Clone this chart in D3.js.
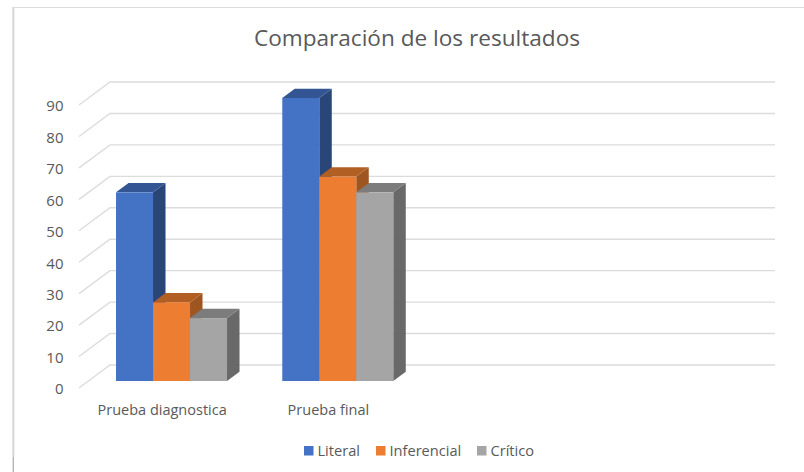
<!DOCTYPE html>
<html>
<head>
<meta charset="utf-8">
<script src="https://cdnjs.cloudflare.com/ajax/libs/d3/7.8.5/d3.min.js"></script>
<style>
  html, body { margin: 0; padding: 0; background: #fff; }
  svg { display: block; }
  text { font-family: "Open Sans", sans-serif; fill: #595959; }
  .axis path, .axis line { display: none; }
</style>
</head>
<body>
<div id="chart"></div>
<script>
'use strict';

var categories = ['Prueba diagnostica', 'Prueba final', '', ' '];
var literal = [60, 90];
var inferencial = [25, 65];
var critico = [20, 60];
var yTicks = [0, 10, 20, 30, 40, 50, 60, 70, 80, 90];
var seriesNames = ['Literal', 'Inferencial', 'Crítico'];
var seriesValues = [literal, inferencial, critico];

var colors = ['#4472c4', '#ed7d31', '#a5a5a5'];
var topColors = ['#335593', '#b25f24', '#7c7c7c'];
var sideColors = ['#2a4679', '#9f5520', '#696969'];

var width = 804, height = 472;
var depth = { x: 31, y: -23 };      // floor depth, front edge to back wall
var barDepth = { x: 12.5, y: -9.3 };
var barInset = { x: 9.4, y: -7 };   // bars stand a bit behind the front edge

var svg = d3.select('#chart').append('svg')
  .attr('width', width)
  .attr('height', height);

// chart frame, only left and top edges are in the crop
svg.append('line').attr('x1', 13.3).attr('x2', 13.3).attr('y1', 7).attr('y2', 457)
  .attr('stroke', '#d9d9d9').attr('stroke-width', 2.2);
svg.append('line').attr('x1', 13.3).attr('x2', 13.3).attr('y1', 457).attr('y2', 472)
  .attr('stroke', '#b4b4b4').attr('stroke-width', 1.4);
svg.append('line').attr('x1', 12).attr('x2', 804).attr('y1', 7.5).attr('y2', 7.5)
  .attr('stroke', '#dcdcdc').attr('stroke-width', 1.2);

var xScale = d3.scaleBand().domain(categories).range([79, 744]);
var yScale = d3.scaleLinear().domain([0, 90]).range([388, 105]);

// walls
svg.append('g').selectAll('path')
  .data(yTicks)
  .enter()
  .append('path')
  .attr('d', function(d) {
    var y = yScale(d);
    return 'M' + xScale.range()[0] + ',' + y +
      'L' + (xScale.range()[0] + depth.x) + ',' + (y + depth.y) +
      'H' + (xScale.range()[1] + depth.x);
  })
  .attr('fill', 'none')
  .attr('stroke', '#dcdcdc')
  .attr('stroke-width', 1.4);

// axes
var yAxis = d3.axisLeft(yScale).tickValues(yTicks).tickSize(0).tickPadding(0);
var yGroup = svg.append('g')
  .attr('class', 'axis')
  .attr('transform', 'translate(63.5,1)')
  .call(yAxis);
yGroup.selectAll('text')
  .style('font-family', '"Open Sans", sans-serif')
  .style('font-size', '15px')
  .style('fill', '#595959');

var xAxis = d3.axisBottom(xScale).tickSize(0).tickPadding(0);
var xGroup = svg.append('g')
  .attr('class', 'axis')
  .attr('transform', 'translate(0,404.5)')
  .call(xAxis);
xGroup.selectAll('text')
  .style('font-family', '"Open Sans", sans-serif')
  .style('font-size', '14.5px')
  .style('fill', '#595959');

// 3d bars
var barWidth = 37;
function barX(catIndex, serIndex) {
  var center = xScale(categories[catIndex]) + xScale.bandwidth() / 2 + barInset.x;
  return center - barWidth * 1.5 + serIndex * barWidth;
}

categories.slice(0, 2).forEach(function(cat, c) {
  seriesValues.forEach(function(values, s) {
    var x0 = barX(c, s), x1 = x0 + barWidth;
    var yBase = yScale(0) + barInset.y;
    var yTop = yScale(values[c]) + barInset.y;
    var g = svg.append('g');

    g.append('path')
      .attr('d', 'M' + x1 + ',' + yTop +
        'l' + barDepth.x + ',' + barDepth.y +
        'V' + (yBase + barDepth.y) +
        'L' + x1 + ',' + yBase + 'Z')
      .attr('fill', sideColors[s]);
    g.append('path')
      .attr('d', 'M' + x0 + ',' + yTop +
        'l' + barDepth.x + ',' + barDepth.y +
        'H' + (x1 + barDepth.x) +
        'L' + x1 + ',' + yTop + 'Z')
      .attr('fill', topColors[s]);
    g.append('rect')
      .attr('x', x0)
      .attr('y', yTop)
      .attr('width', barWidth)
      .attr('height', yBase - yTop)
      .attr('fill', colors[s]);
  });
});

// title
svg.append('text')
  .attr('x', 417)
  .attr('y', 45.5)
  .attr('text-anchor', 'middle')
  .style('font-size', '22.6px')
  .text('Comparación de los resultados');

// legend
var legendX = [304, 376, 477];
seriesNames.forEach(function(name, i) {
  svg.append('rect')
    .attr('x', legendX[i])
    .attr('y', 446)
    .attr('width', 9.5)
    .attr('height', 9.5)
    .attr('fill', colors[i]);
  svg.append('text')
    .attr('x', legendX[i] + 13.5)
    .attr('y', 455.5)
    .style('font-size', '14.6px')
    .text(name);
});
</script>
</body>
</html>
